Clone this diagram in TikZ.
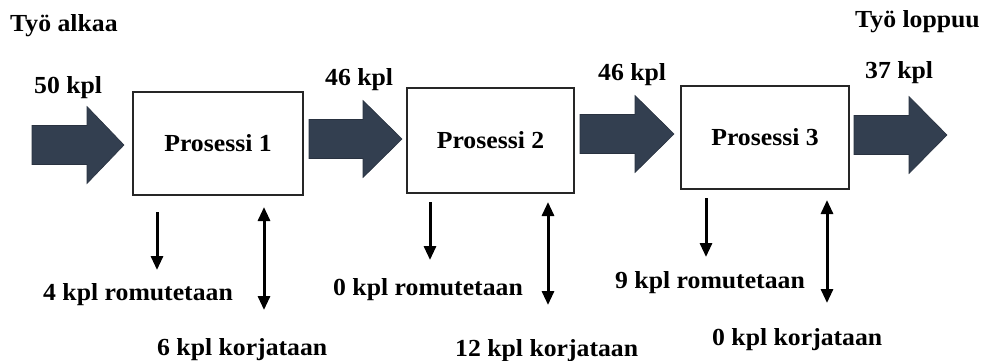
\documentclass[tikz,border=0pt]{standalone}
\usepackage{fontspec}
\setmainfont{Liberation Serif}[FakeStretch=1.05]
\usetikzlibrary{arrows.meta}
\definecolor{flowfill}{RGB}{51,63,80}
\tikzset{
  lbl/.style={inner sep=0pt, font=\fontsize{24.5}{28}\selectfont\bfseries},
  procbox/.style={draw=black!85, line width=1.2pt, fill=white, inner sep=0pt,
    font=\fontsize{24.5}{28}\selectfont\bfseries},
  flowblock/.style={fill=flowfill, draw=flowfill!80!black, line width=0.6pt},
  partflow/.style={draw=black, line width=3pt, -{Triangle[width=12pt,length=14pt]}},
  repairflow/.style={draw=black, line width=3pt,
    {Triangle[width=12pt,length=14pt]}-{Triangle[width=12pt,length=14pt]}},
}
% block arrow: tail x, head base x, tip x, centre y
\newcommand\blockarrow[4]{%
  \path[flowblock] (#1,#4-19.5) -- (#2,#4-19.5) -- (#2,#4-38.5) -- (#3,#4)
    -- (#2,#4+38.5) -- (#2,#4+19.5) -- (#1,#4+19.5) -- cycle;}
\begin{document}
\begin{tikzpicture}[x=1pt,y=-1pt]
\useasboundingbox (0,0) rectangle (983,360);

% start and end captions
\node[lbl, anchor=base west] (start) at (10,31) {Työ alkaa};
\node[lbl, anchor=base east] (finish) at (980,27) {Työ loppuu};

% main flow
\blockarrow{32}{87}{124}{145}
\blockarrow{309}{363}{402}{139}
\blockarrow{580}{635}{674}{134}
\blockarrow{854}{909}{947}{135}

\node[procbox, minimum width=170pt, minimum height=103pt] (p1) at (218,143.5) {Prosessi 1};
\node[procbox, minimum width=167pt, minimum height=105pt] (p2) at (490.5,140.5) {Prosessi 2};
\node[procbox, minimum width=168pt, minimum height=103pt] (p3) at (765,137.5) {Prosessi 3};

% quantities
\node[lbl, anchor=base west] (q0) at (34,93) {50 kpl};
\node[lbl, anchor=base west] (q1) at (325,85) {46 kpl};
\node[lbl, anchor=base west] (q2) at (598,80) {46 kpl};
\node[lbl, anchor=base west] (q3) at (865,78) {37 kpl};

% scrap and repair flows
\coordinate (s1a) at (157,212); \coordinate (s1b) at (157,270);
\coordinate (r1a) at (264,207); \coordinate (r1b) at (264,310);
\coordinate (s2a) at (430,202); \coordinate (s2b) at (430,260);
\coordinate (r2a) at (548,202); \coordinate (r2b) at (548,305);
\coordinate (s3a) at (706,198); \coordinate (s3b) at (706,257);
\coordinate (r3a) at (827,200); \coordinate (r3b) at (827,303);
\draw[partflow] (s1a) -- (s1b);
\draw[repairflow] (r1a) -- (r1b);
\draw[partflow] (s2a) -- (s2b);
\draw[repairflow] (r2a) -- (r2b);
\draw[partflow] (s3a) -- (s3b);
\draw[repairflow] (r3a) -- (r3b);

\node[lbl, anchor=base west] (sc1) at (43,300) {4 kpl romutetaan};
\node[lbl, anchor=base west] (rp1) at (157,355) {6 kpl korjataan};
\node[lbl, anchor=base west] (sc2) at (333,295) {0 kpl romutetaan};
\node[lbl, anchor=base west] (rp2) at (455,356) {12 kpl korjataan};
\node[lbl, anchor=base west] (sc3) at (615,288) {9 kpl romutetaan};
\node[lbl, anchor=base west] (rp3) at (712,345) {0 kpl korjataan};
\end{tikzpicture}
\end{document}
